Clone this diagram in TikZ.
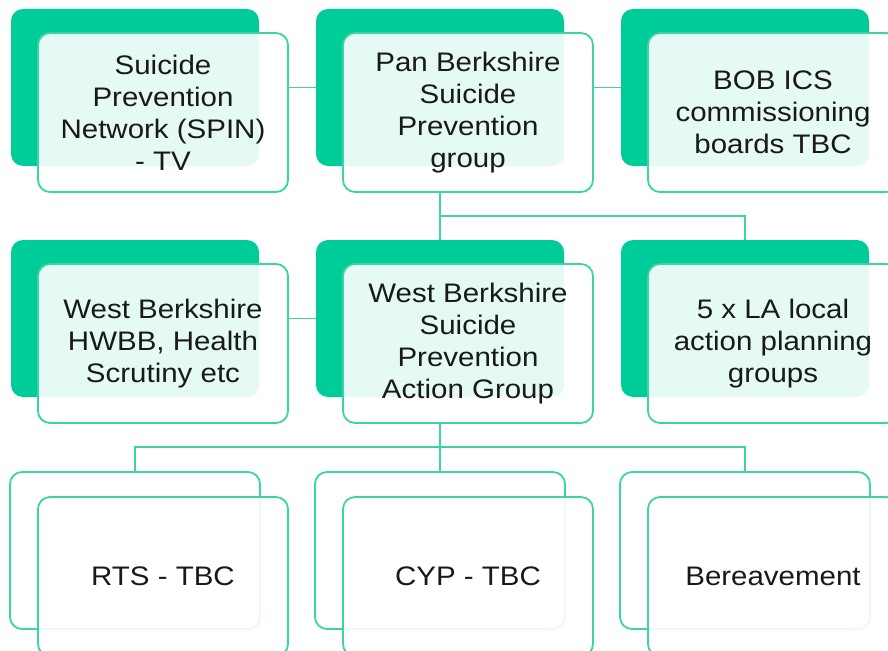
\documentclass[tikz,border=0pt]{standalone}
\usepackage{fontspec}
\setmainfont{Liberation Sans}[FakeStretch=1.1]
\usetikzlibrary{positioning}

\definecolor{boxgreen}{RGB}{0,204,153}
\definecolor{linegreen}{RGB}{60,211,165}

\begin{document}
\begin{tikzpicture}[x=1pt,y=-1pt,
  back/.style={rounded corners=12pt, minimum width=248pt, minimum height=157pt, fill=boxgreen},
  backline/.style={rounded corners=12pt, minimum width=250pt, minimum height=157pt, draw=linegreen, line width=1.8pt, fill=white},
  front/.style={rounded corners=12pt, minimum width=250pt, minimum height=159pt, draw=linegreen, line width=1.8pt,
    fill=white, fill opacity=0.9, text opacity=1, align=center, text=black!90,
    font=\fontsize{26.8}{32}\selectfont},
  link/.style={draw=linegreen, line width=1.6pt}]
\clip (0,0) rectangle (888,650);
\fill[white] (0,0) rectangle (888,650);

% back boxes
\node[back] (b11) at (135,87.5) {};
\node[back] (b12) at (440,87.5) {};
\node[back] (b13) at (745,87.5) {};
\node[back] (b21) at (135,318.5) {};
\node[back] (b22) at (440,318.5) {};
\node[back] (b23) at (745,318.5) {};
\node[backline] (b31) at (135,550.5) {};
\node[backline] (b32) at (440,550.5) {};
\node[backline] (b33) at (745,550.5) {};

% connectors
\coordinate (j1) at (440,216);
\coordinate (j2) at (440,447);
\draw[link] (b12 |- 0,193) -- (b22.north);
\draw[link] (j1) -| (b23.north);
\draw[link] (b22 |- 0,424) -- (b32.north);
\draw[link] (b31.north) |- (j2) -| (b33.north);

% front boxes
\node[front] (f11) at (163,112.5) {Suicide\\Prevention\\Network (SPIN)\\- TV};
\node[front] (f12) at (468,112.5) {Pan Berkshire\\Suicide\\Prevention\\group};
\node[front] (f13) at (773,112.5) {BOB ICS\\commissioning\\boards TBC};
\node[front] (f21) at (163,343.5) {West Berkshire\\HWBB, Health\\Scrutiny etc};
\node[front] (f22) at (468,343.5) {West Berkshire\\Suicide\\Prevention\\Action Group};
\node[front] (f23) at (773,343.5) {5 x LA local\\action planning\\groups};
\node[front] (f31) at (163,576.5) {RTS - TBC};
\node[front] (f32) at (468,576.5) {CYP - TBC};
\node[front] (f33) at (773,576.5) {Bereavement};

\draw[link] (f11.east |- b11) -- (b12.west);
\draw[link] (f12.east |- b12) -- (b13.west);
\draw[link] (f21.east |- b21) -- (b22.west);
\end{tikzpicture}
\end{document}
